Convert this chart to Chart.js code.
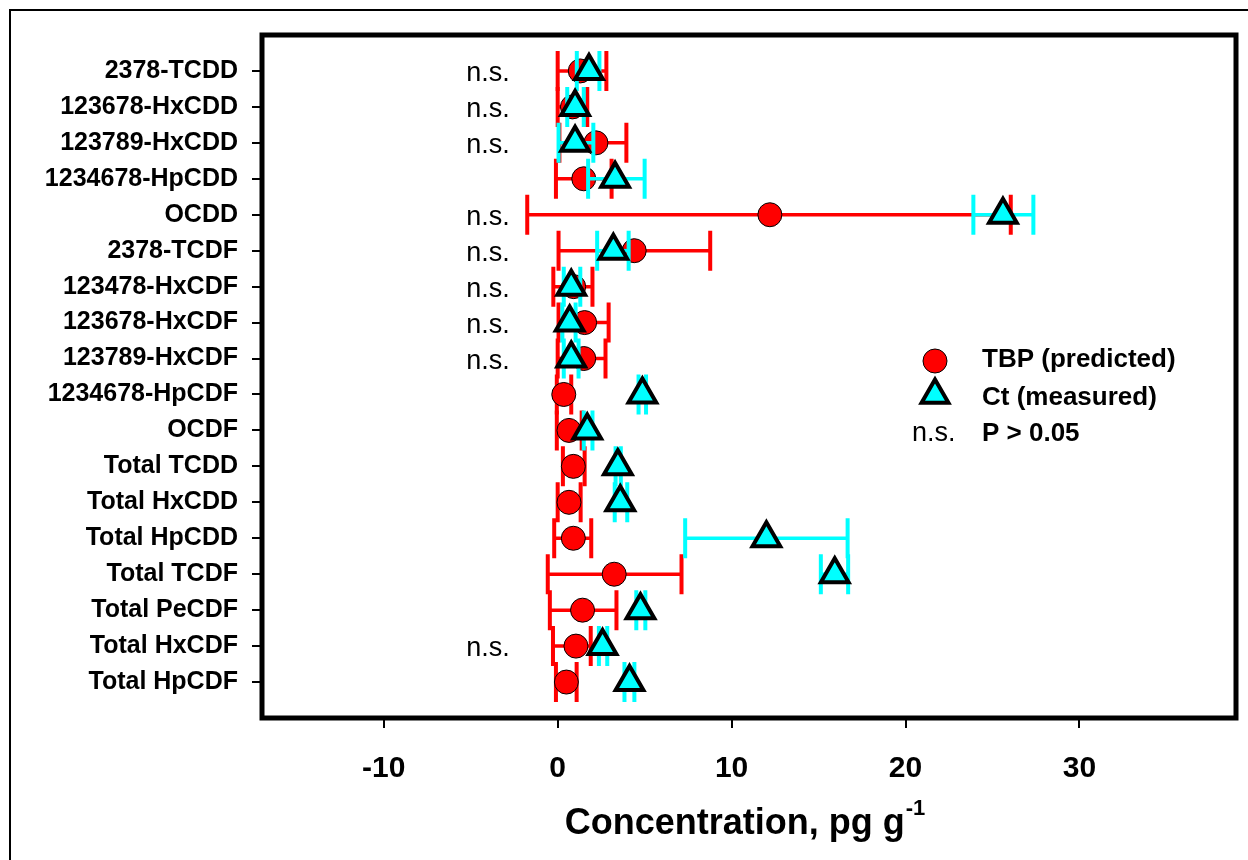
<!DOCTYPE html>
<html>
<head>
<meta charset="utf-8">
<script src="https://cdn.jsdelivr.net/npm/chart.js@4.4.0/dist/chart.umd.min.js"></script>
<style>
  body { margin: 0; background: #fff; }
  canvas { display: block; }
</style>
</head>
<body>
<canvas id="chart" width="1248" height="860"></canvas>
<script>
const congeners = ['2378-TCDD', '123678-HxCDD', '123789-HxCDD', '1234678-HpCDD', 'OCDD',
  '2378-TCDF', '123478-HxCDF', '123678-HxCDF', '123789-HxCDF', '1234678-HpCDF', 'OCDF',
  'Total TCDD', 'Total HxCDD', 'Total HpCDD', 'Total TCDF', 'Total PeCDF', 'Total HxCDF', 'Total HpCDF'];

// TBP (predicted): mean and error bar ends
const tbpMean = [1.3, 0.85, 2.2, 1.5, 12.2, 4.4, 0.92, 1.55, 1.5, 0.35, 0.65, 0.9, 0.65, 0.9, 3.25, 1.43, 1.05, 0.5];
const tbpLow  = [0.0, 0.0, 0.1, -0.1, -1.75, 0.05, -0.25, 0.05, 0.0, -0.05, -0.05, 0.3, 0.0, -0.2, -0.57, -0.45, -0.27, -0.1];
const tbpHigh = [2.8, 1.7, 3.95, 3.1, 26.05, 8.77, 2.0, 2.93, 2.75, 0.78, 1.38, 1.55, 1.32, 1.93, 7.12, 3.38, 1.9, 1.09];

// Ct (measured)
const ctMean = [1.8, 1.0, 1.0, 3.3, 25.6, 3.2, 0.78, 0.69, 0.78, 4.87, 1.7, 3.46, 3.6, 12.0, 15.93, 4.76, 2.58, 4.13];
const ctLow  = [1.1, 0.55, 0.05, 1.75, 23.9, 2.27, 0.35, 0.27, 0.35, 4.65, 1.5, 3.33, 3.28, 7.33, 15.13, 4.52, 2.37, 3.84];
const ctHigh = [2.4, 1.5, 2.05, 5.0, 27.35, 4.08, 1.3, 1.03, 1.2, 5.08, 2.0, 3.63, 4.0, 16.67, 16.7, 5.04, 2.85, 4.41];

const significance = ['n.s.', 'n.s.', 'n.s.', '', 'n.s.', 'n.s.', 'n.s.', 'n.s.', 'n.s.', '', '', '', '', '', '', '', 'n.s.', ''];
const xTicks = [-10, 0, 10, 20, 30];

const RED = '#ff0000';
const CYAN = '#00ffff';
const FONT = "'Liberation Sans', Arial, sans-serif";

Chart.defaults.font.family = FONT;
Chart.defaults.color = '#000';

function drawErrorBars(chart, low, high, color) {
  const ctx = chart.ctx;
  const xs = chart.scales.x, ys = chart.scales.y;
  ctx.save();
  ctx.strokeStyle = color;
  low.forEach((lo, i) => {
    const yp = ys.getPixelForValue(i);
    const x1 = xs.getPixelForValue(lo);
    const x2 = xs.getPixelForValue(high[i]);
    ctx.lineWidth = 3.5;
    ctx.beginPath();
    ctx.moveTo(x1, yp);
    ctx.lineTo(x2, yp);
    ctx.stroke();
    ctx.lineWidth = 4;
    ctx.beginPath();
    ctx.moveTo(x1, yp - 20); ctx.lineTo(x1, yp + 20);
    ctx.moveTo(x2, yp - 20); ctx.lineTo(x2, yp + 20);
    ctx.stroke();
  });
  ctx.restore();
}

const extras = {
  id: 'extras',
  beforeDatasetDraw(chart, args) {
    if (args.index === 0) drawErrorBars(chart, tbpLow, tbpHigh, RED);
    if (args.index === 1) drawErrorBars(chart, ctLow, ctHigh, CYAN);
  },
  afterDraw(chart) {
    const ctx = chart.ctx;
    const a = chart.chartArea;
    const xs = chart.scales.x, ys = chart.scales.y;
    ctx.save();

    // outer frame (top and left only)
    ctx.strokeStyle = '#000';
    ctx.lineWidth = 2;
    ctx.beginPath();
    ctx.moveTo(1248, 10); ctx.lineTo(10, 10); ctx.lineTo(10, 860);
    ctx.stroke();

    // plot box
    ctx.lineWidth = 5;
    ctx.strokeRect(a.left, a.top, a.right - a.left, a.bottom - a.top);

    // n.s. marks
    ctx.fillStyle = '#000';
    ctx.font = '27px ' + FONT;
    ctx.textAlign = 'center';
    ctx.textBaseline = 'alphabetic';
    significance.forEach((s, i) => {
      if (s) ctx.fillText(s, xs.getPixelForValue(-4), ys.getPixelForValue(i) + 10);
    });

    // legend
    ctx.beginPath();
    ctx.arc(935, 361, 12, 0, Math.PI * 2);
    ctx.fillStyle = RED;
    ctx.fill();
    ctx.lineWidth = 1;
    ctx.stroke();

    const r = 15.5, ty = 395;
    ctx.beginPath();
    ctx.moveTo(935, ty - r);
    ctx.lineTo(935 + r * Math.sin(Math.PI * 2 / 3), ty + r / 2);
    ctx.lineTo(935 - r * Math.sin(Math.PI * 2 / 3), ty + r / 2);
    ctx.closePath();
    ctx.fillStyle = CYAN;
    ctx.fill();
    ctx.lineWidth = 4;
    ctx.stroke();

    ctx.fillStyle = '#000';
    ctx.textAlign = 'left';
    ctx.font = 'bold 26px ' + FONT;
    ctx.fillText('TBP (predicted)', 982, 367);
    ctx.fillText('Ct (measured)', 982, 405);
    ctx.fillText('P > 0.05', 982, 441);
    ctx.font = '27px ' + FONT;
    ctx.fillText('n.s.', 912, 441);

    // axis title with superscript
    const main = 'Concentration, pg g', sup = '-1';
    ctx.font = 'bold 36px ' + FONT;
    const w1 = ctx.measureText(main).width;
    ctx.font = 'bold 22px ' + FONT;
    const w2 = ctx.measureText(sup).width;
    const x0 = 745 - (w1 + w2 + 1) / 2;
    ctx.font = 'bold 36px ' + FONT;
    ctx.fillText(main, x0, 834);
    ctx.font = 'bold 22px ' + FONT;
    ctx.fillText(sup, x0 + w1 + 1, 815);

    ctx.restore();
  }
};

new Chart(document.getElementById('chart').getContext('2d'), {
  type: 'scatter',
  data: {
    datasets: [{
      label: 'TBP (predicted)',
      data: tbpMean.map((v, i) => ({ x: v, y: i })),
      pointStyle: 'circle',
      pointRadius: 12,
      pointBackgroundColor: RED,
      pointBorderColor: '#000',
      pointBorderWidth: 1,
      order: 2
    }, {
      label: 'Ct (measured)',
      data: ctMean.map((v, i) => ({ x: v, y: i })),
      pointStyle: 'triangle',
      pointRadius: 16,
      pointBackgroundColor: CYAN,
      pointBorderColor: '#000',
      pointBorderWidth: 4,
      order: 1
    }]
  },
  options: {
    responsive: false,
    animation: false,
    events: [],
    layout: { autoPadding: false, padding: { top: 35, right: 12, left: 0, bottom: 0 } },
    plugins: {
      legend: { display: false },
      tooltip: { enabled: false }
    },
    scales: {
      x: {
        type: 'linear',
        min: -17,
        max: 39,
        afterBuildTicks: axis => { axis.ticks = xTicks.map(v => ({ value: v })); },
        afterFit: axis => { axis.height = 142; },
        border: { display: false },
        grid: { drawOnChartArea: false, drawTicks: true, tickLength: 10, color: '#000', lineWidth: 2 },
        ticks: { font: { size: 30, weight: 'bold' }, padding: 23, autoSkip: false, maxRotation: 0 }
      },
      y: {
        type: 'linear',
        reverse: true,
        min: -1,
        max: 18,
        afterBuildTicks: axis => { axis.ticks = congeners.map((c, i) => ({ value: i })); },
        afterFit: axis => { axis.width = 262; },
        border: { display: false },
        grid: { drawOnChartArea: false, drawTicks: true, tickLength: 10, color: '#000', lineWidth: 2 },
        ticks: {
          font: { size: 25, weight: 'bold' },
          padding: 14,
          autoSkip: false,
          callback: v => congeners[v]
        }
      }
    }
  },
  plugins: [extras]
});
</script>
</body>
</html>
